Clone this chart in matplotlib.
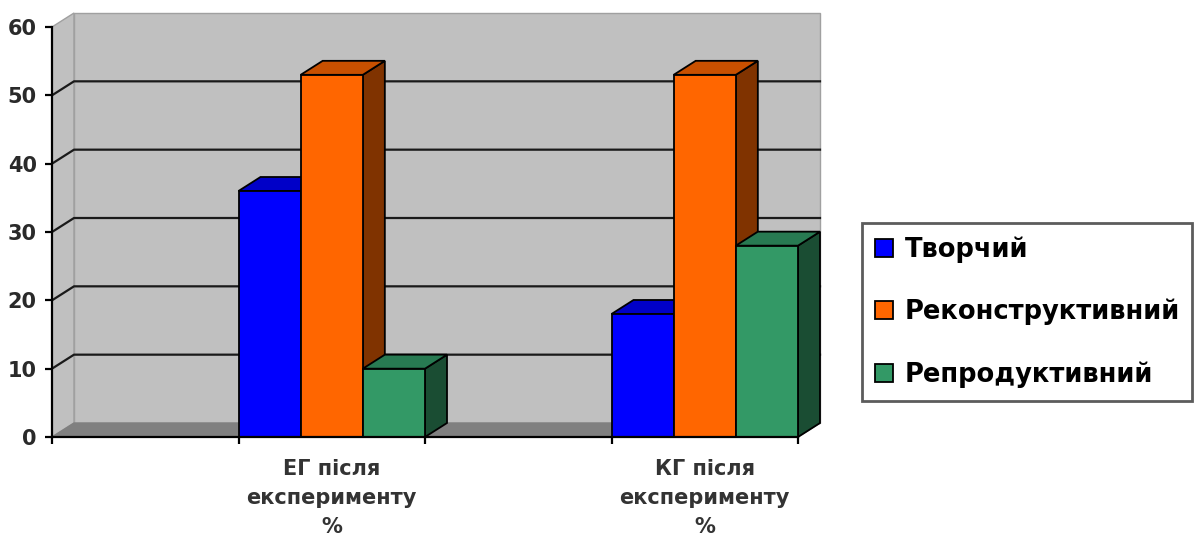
import numpy as np
import matplotlib
matplotlib.use("Agg")
import matplotlib.pyplot as plt
from matplotlib.patches import Polygon, Rectangle

# Category slots along the x axis (empty slots are left blank)
categories = ["", "ЕГ після\nексперименту\n%", "", "КГ після\nексперименту\n%"]
series_names = ["Творчий", "Реконструктивний", "Репродуктивний"]
tvorchyi = [np.nan, 36, np.nan, 18]
rekonstruktyvnyi = [np.nan, 53, np.nan, 53]
reproduktyvnyi = [np.nan, 10, np.nan, 28]
y_ticks = [0, 10, 20, 30, 40, 50, 60]

series_values = [tvorchyi, rekonstruktyvnyi, reproduktyvnyi]
front_colors = ["#0000FF", "#FF6600", "#339966"]
top_colors = ["#0000C8", "#C85000", "#287A52"]
side_colors = ["#000080", "#803300", "#1A4D33"]

plt.rcParams["font.family"] = ["DejaVu Sans"]

fig = plt.figure(figsize=(12.01, 5.48), dpi=100)
W, H = 1201, 548
ax = fig.add_axes([52 / W, (H - 437) / H, 746 / W, 410 / H])
n_slots = len(categories)
ymax = y_ticks[-1]
ax.set_xlim(0, n_slots)
ax.set_ylim(0, ymax)

# depth of the 3-D box, in data units
DX = 22 / 746 * n_slots
DY = 14 / 410 * ymax

# side wall, back wall and floor
wall_kw = dict(clip_on=False, linewidth=1.0)
ax.add_patch(Polygon([(0, 0), (DX, DY), (DX, ymax + DY), (0, ymax)],
                     closed=True, facecolor="#C0C0C0", edgecolor="#A0A0A0", zorder=0.5, **wall_kw))
ax.add_patch(Polygon([(DX, DY), (n_slots + DX, DY), (n_slots + DX, ymax + DY), (DX, ymax + DY)],
                     closed=True, facecolor="#C0C0C0", edgecolor="#A0A0A0", zorder=0.5, **wall_kw))
ax.add_patch(Polygon([(0, 0), (n_slots, 0), (n_slots + DX, DY), (DX, DY)],
                     closed=True, facecolor="#808080", edgecolor="#808080", zorder=0.8, **wall_kw))

# gridlines on the side and back walls
for v in y_ticks[1:-1]:
    ax.plot([0, DX, n_slots + DX], [v, v + DY, v + DY], color="#1A1A1A",
            linewidth=1.6, clip_on=False, zorder=0.7)

# 3-D columns, drawn left to right so each one hides the previous side face
bw = 1.0 / len(series_values)
z = 2
for k in range(n_slots):
    for i, vals in enumerate(series_values):
        v = vals[k]
        if np.isnan(v):
            continue
        x0 = k + i * bw
        x1 = x0 + bw
        ax.add_patch(Polygon([(x1, 0), (x1 + DX, DY), (x1 + DX, v + DY), (x1, v)], closed=True,
                             facecolor=side_colors[i], edgecolor="black", linewidth=1.3,
                             clip_on=False, zorder=z))
        ax.add_patch(Polygon([(x0, v), (x1, v), (x1 + DX, v + DY), (x0 + DX, v + DY)], closed=True,
                             facecolor=top_colors[i], edgecolor="black", linewidth=1.3,
                             clip_on=False, zorder=z))
        ax.bar(x0, v, width=bw, align="edge", color=front_colors[i], edgecolor="black",
               linewidth=1.3, zorder=z + 0.5, clip_on=False)
        z += 1

# axes lines and ticks
for s in ["top", "right"]:
    ax.spines[s].set_visible(False)
ax.spines["left"].set_linewidth(1.6)
ax.spines["bottom"].set_linewidth(1.6)
ax.spines["left"].set_zorder(50)
ax.spines["bottom"].set_zorder(50)
ax.patch.set_visible(False)

ax.set_yticks(y_ticks)
ax.set_yticklabels([str(t) for t in y_ticks])
ax.tick_params(axis="y", length=5, width=1.6, pad=6, labelsize=15, labelcolor="#2A2A2A")
for lbl in ax.get_yticklabels():
    lbl.set_fontweight("bold")

ax.set_xticks(np.arange(n_slots + 1))
ax.set_xticklabels([])
ax.set_xticks(np.arange(n_slots) + 0.5, minor=True)
ax.set_xticklabels(categories, minor=True)
ax.tick_params(axis="x", which="major", length=5, width=1.6)
ax.tick_params(axis="x", which="minor", length=0, pad=16, labelsize=15, labelcolor="#333333")
for lbl in ax.get_xticklabels(minor=True):
    lbl.set_fontweight("bold")
    lbl.set_linespacing(1.55)
    lbl.set_verticalalignment("top")

handles = [Rectangle((0, 0), 1, 1, facecolor=c, edgecolor="black", linewidth=1.3) for c in front_colors]
leg = fig.legend(handles, series_names, loc="center left",
                 bbox_to_anchor=(862 / W, (H - 312) / H),
                 prop={"weight": "bold", "size": 18.5}, frameon=True, fancybox=False,
                 edgecolor="#333333", handlelength=0.7, handleheight=0.7,
                 handletextpad=0.45, labelspacing=1.4, borderpad=0.5, borderaxespad=0)
leg.get_frame().set_linewidth(2)

fig.savefig("out.png", dpi=100)
